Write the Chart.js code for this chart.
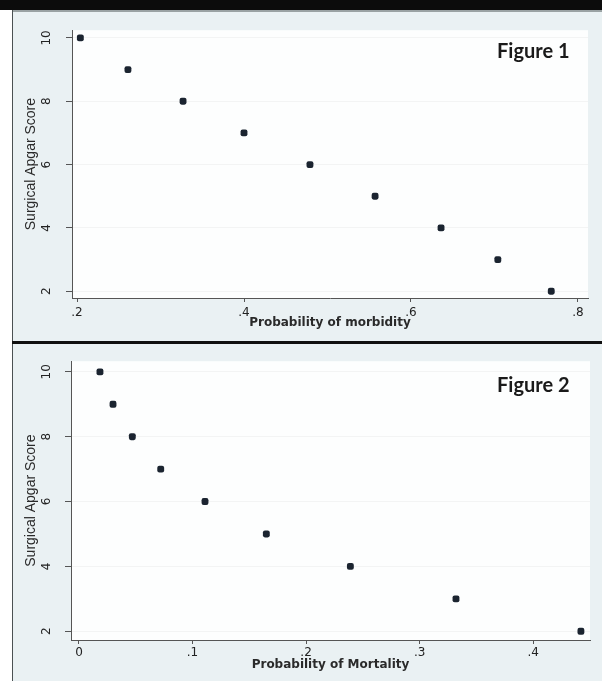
<!DOCTYPE html>
<html>
<head>
<meta charset="utf-8">
<title>Surgical Apgar Score</title>
<script src="https://cdn.jsdelivr.net/npm/chart.js@4"></script>
<style>
  body { margin: 0; background: #fff; }
  #page { position: relative; width: 602px; height: 683px; overflow: hidden; background: #fff; }
  .topbar { position: absolute; left: 0; top: 0; width: 602px; height: 10px; background: #0c0c0c; }
  .topedge { position: absolute; left: 12px; top: 10px; width: 590px; height: 2px; background: #9aa2a3; }
  .leftedge { position: absolute; left: 12px; top: 10px; width: 1px; height: 671px; background: #4b5152; }
  .divider { position: absolute; left: 12px; top: 341px; width: 590px; height: 3px; background: #101010; }
  .panel { position: absolute; left: 13px; width: 589px; background: #eaf1f3; }
  #panel1 { top: 12px; height: 329px; }
  #panel2 { top: 344px; height: 337px; }
  .fig-label { position: absolute; left: 497px; font: bold 20px Lato, sans-serif; line-height: 20px; color: #1a1a1a; }
</style>
</head>
<body>
<div id="page">
  <div class="topbar"></div>
  <div class="panel" id="panel1"><canvas id="morbidityChart" width="589" height="329"></canvas></div>
  <div class="panel" id="panel2"><canvas id="mortalityChart" width="589" height="337"></canvas></div>
  <div class="topedge"></div>
  <div class="leftedge"></div>
  <div class="divider"></div>
  <div class="fig-label" style="top: 40px;">Figure 1</div>
  <div class="fig-label" style="top: 374px;">Figure 2</div>
</div>
<script>
// Surgical Apgar Score against predicted probability of outcome
const apgarScores = [10, 9, 8, 7, 6, 5, 4, 3, 2];
const morbidityProb = [0.204, 0.261, 0.327, 0.400, 0.479, 0.557, 0.636, 0.704, 0.768];
const mortalityProb = [0.0185, 0.030, 0.047, 0.072, 0.111, 0.165, 0.239, 0.332, 0.442];

const scoreTicks = [2, 4, 6, 8, 10];
const morbidityTicks = [0.2, 0.4, 0.6, 0.8];
const morbidityTickLabels = ['.2', '.4', '.6', '.8'];
const mortalityTicks = [0, 0.1, 0.2, 0.3, 0.4];
const mortalityTickLabels = ['0', '.1', '.2', '.3', '.4'];

// white plot region behind the markers
const plotBackground = {
    id: 'plotBackground',
    beforeDraw(chart) {
        const { ctx, chartArea: a } = chart;
        ctx.save();
        ctx.fillStyle = '#fdfefe';
        ctx.fillRect(a.left, a.top, a.right - a.left, a.bottom - a.top);
        ctx.restore();
    }
};

const tickFont = { family: 'DejaVu Sans', size: 12 };

function makeScatter(id, xValues, xTicks, xTickLabels, xTitle, cfg) {
    const ctx = document.getElementById(id).getContext('2d');
    return new Chart(ctx, {
        type: 'scatter',
        data: {
            datasets: [{
                data: xValues.map((x, i) => ({ x: x, y: apgarScores[i] })),
                pointStyle: 'rectRounded',
                pointRadius: 4,
                backgroundColor: '#1b2430',
                borderColor: '#1b2430',
                borderWidth: 0,
                clip: false
            }]
        },
        options: {
            responsive: false,
            animation: false,
            layout: { padding: cfg.padding },
            plugins: {
                legend: { display: false },
                tooltip: { enabled: false }
            },
            scales: {
                x: {
                    type: 'linear',
                    min: cfg.xMin,
                    max: cfg.xMax,
                    afterBuildTicks: s => { s.ticks = xTicks.map(v => ({ value: v })); },
                    afterFit: s => { s.height = cfg.xAxisHeight; },
                    ticks: {
                        callback: (v, i) => xTickLabels[i],
                        font: tickFont,
                        color: '#222',
                        padding: cfg.xTickPad,
                        maxRotation: 0,
                        autoSkip: false
                    },
                    grid: { drawOnChartArea: false, tickLength: 4, tickColor: '#555' },
                    border: { color: '#555' },
                    title: {
                        display: true,
                        text: xTitle,
                        font: { family: 'DejaVu Sans', size: 12, weight: 'bold' },
                        color: '#2a2a2a',
                        padding: { top: 0, bottom: cfg.xTitlePad }
                    }
                },
                y: {
                    type: 'linear',
                    min: cfg.yMin,
                    max: cfg.yMax,
                    afterBuildTicks: s => { s.ticks = scoreTicks.map(v => ({ value: v })); },
                    afterFit: s => { s.width = cfg.yAxisWidth; },
                    ticks: {
                        font: tickFont,
                        color: '#222',
                        padding: cfg.yTickPad,
                        minRotation: 90,
                        maxRotation: 90,
                        crossAlign: 'center'
                    },
                    grid: { color: 'rgba(0,0,0,0.04)', tickLength: 6, tickColor: '#555' },
                    border: { color: '#555' },
                    title: {
                        display: true,
                        text: 'Surgical Apgar Score',
                        font: { family: 'Liberation Sans', size: 14 },
                        color: '#2a2a2a',
                        padding: { top: 10, bottom: 0 }
                    }
                }
            }
        },
        plugins: [plotBackground]
    });
}

document.addEventListener('DOMContentLoaded', () => {
    makeScatter('morbidityChart', morbidityProb, morbidityTicks, morbidityTickLabels,
        'Probability of morbidity', {
            xMin: 0.194, xMax: 0.812, yMin: 1.787, yMax: 10.243,
            padding: { top: 8, right: 14, bottom: 0, left: 0 },
            xAxisHeight: 43, yAxisWidth: 59,
            xTickPad: 4, yTickPad: 11, xTitlePad: 10.8
        });

    makeScatter('mortalityChart', mortalityProb, mortalityTicks, mortalityTickLabels,
        'Probability of Mortality', {
            xMin: -0.007, xMax: 0.450, yMin: 1.731, yMax: 10.328,
            padding: { top: 8, right: 12, bottom: 0, left: 0 },
            xAxisHeight: 41, yAxisWidth: 58,
            xTickPad: 2, yTickPad: 10, xTitlePad: 8.8
        });
});
</script>
</body>
</html>
